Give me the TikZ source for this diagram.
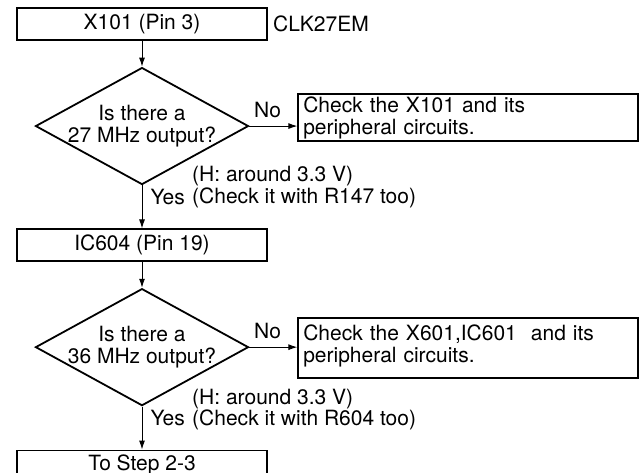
\documentclass[tikz,border=0pt]{standalone}
\usepackage{fontspec}
\setmainfont{TeX Gyre Heros}
\usetikzlibrary{arrows.meta,positioning,shapes.geometric}
\tikzset{
  stepbox/.style={draw,line width=1.8pt,minimum width=250pt,minimum height=31.5pt,
    inner sep=0pt,font=\fontsize{21}{22.5}\selectfont},
  query/.style={draw,line width=1.8pt,diamond,aspect=1.84,minimum width=213pt,
    minimum height=117pt,inner sep=-6pt,align=center,font=\fontsize{21}{22}\selectfont},
  remedy/.style={draw,line width=1.8pt,text width=330pt,align=left,minimum height=47pt,
    inner xsep=5pt,inner ysep=0pt,font=\fontsize{21}{22}\selectfont},
  note/.style={align=left,inner sep=0pt,font=\fontsize{21}{21.5}\selectfont},
  answer/.style={inner sep=2pt,font=\fontsize{21}{22.5}\selectfont},
  arrow/.style={-{Latex[length=9pt,width=6pt]},line width=1pt}
}
\begin{document}
\begin{tikzpicture}[node distance=26pt]
        \useasboundingbox (0,0) rectangle (644pt,-472pt);
        \node[stepbox] (x101) at (142pt,-24pt) {X101 (Pin 3)};
        \node[answer,inner sep=0pt,right=5pt of x101] (clk) {CLK27EM};
        \node[query,below=of x101] (q27) {Is there a\\27 MHz output?};
        \node[remedy,right=48pt of q27,yshift=8.5pt] (fix27) {Check the X101 and its\\peripheral circuits.};
        \node[note,anchor=base west] (hint27) at ([xshift=50pt,yshift=-18pt]q27.south) {(H: around 3.3 V)\\(Check it with R147 too)};
        \node[stepbox,below=43pt of q27] (ic604) {IC604 (Pin 19)};
        \node[query,below=of ic604] (q36) {Is there a\\36 MHz output?};
        \node[remedy,minimum height=60pt,text depth=31pt,right=48pt of q36,yshift=-1pt] (fix36) {Check the X601,IC601\ \ and its\\peripheral circuits.};
        \node[note,anchor=base west] (hint36) at ([xshift=50pt,yshift=-19pt]q36.south) {(H: around 3.3 V)\\(Check it with R604 too)};
        \node[stepbox,text depth=8pt,below=43pt of q36] (next) {To Step 2-3};
        \draw[arrow] (x101)--(q27);
        \draw[arrow] (q27.east)--node[answer,above=6pt,pos=0.38]{No}(q27.east-|fix27.west);
        \draw[arrow] (q27.south)--node[answer,right=6pt,pos=0.27]{Yes}(ic604.north);
        \draw[arrow] (ic604)--(q36);
        \draw[arrow] (q36.east)--node[answer,above=6pt,pos=0.38]{No}(q36.east-|fix36.west);
        \draw[arrow] (q36.south)--node[answer,right=6pt,pos=0.27]{Yes}(next.north);
      \end{tikzpicture}
\end{document}
